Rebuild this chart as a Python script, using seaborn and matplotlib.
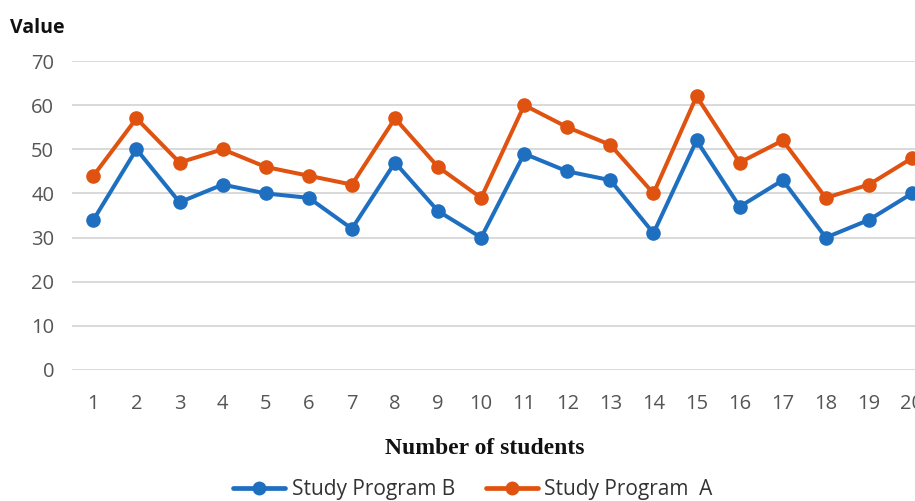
import numpy as np
import pandas as pd
import matplotlib
matplotlib.use("Agg")
import matplotlib.pyplot as plt
import seaborn as sns

# Scores per student for the two study programmes
students = list(range(1, 21))
program_a = [44, 57, 47, 50, 46, 44, 42, 57, 46, 39, 60, 55, 51, 40, 62, 47, 52, 39, 42, 48]
program_b = [34, 50, 38, 42, 40, 39, 32, 47, 36, 30, 49, 45, 43, 31, 52, 37, 43, 30, 34, 40]
series_names = ["Study Program B", "Study Program  A"]
y_ticks = [0, 10, 20, 30, 40, 50, 60, 70]

df = pd.concat([
    pd.DataFrame({"student": students, "value": program_b, "series": series_names[0]}),
    pd.DataFrame({"student": students, "value": program_a, "series": series_names[1]}),
])

sns.set_theme(style="white")
plt.rcParams["font.family"] = ["Open Sans", "DejaVu Sans"]

palette = {series_names[0]: "#1f6fc1", series_names[1]: "#e0520f"}

fig = plt.figure(figsize=(9.15, 5.01), dpi=100)
ax = fig.add_axes([0.079, 0.2615, 0.921, 0.6167])

sns.lineplot(data=df, x="student", y="value", hue="series", palette=palette,
             marker="o", markersize=10.5, markeredgewidth=0, linewidth=2.9,
             ax=ax, legend=False, zorder=3)
for line in ax.lines:
    line.set_clip_on(False)

ax.set_ylim(0, 70)
ax.set_xlim(0.51, 20.07)
ax.set_yticks(y_ticks)
ax.set_xticks(students)
ax.yaxis.grid(True, color="#d9d9d9", linewidth=1.4)
ax.xaxis.grid(False)
for s in ax.spines.values():
    s.set_visible(False)
ax.tick_params(axis="y", length=0, pad=13, labelsize=14.5, labelcolor="#555555")
ax.tick_params(axis="x", length=0, pad=17, labelsize=14.5, labelcolor="#555555")
ax.set_xlabel("")
ax.set_ylabel("")

fig.text(0.011, 0.945, "Value", fontsize=14, fontweight="bold", color="#111111",
         family=["Open Sans", "DejaVu Sans"], ha="left", va="center")
fig.text(0.53, 0.105, "Number of students", fontsize=17, fontweight="bold",
         family=["Liberation Serif", "DejaVu Serif"], color="#111111",
         ha="center", va="center")

handles = [
    plt.Line2D([], [], color=palette[n], marker="o", markersize=10,
               markeredgewidth=0, linewidth=3.4)
    for n in series_names
]
fig.legend(handles, series_names, loc="center", bbox_to_anchor=(0.517, 0.022),
           ncol=2, frameon=False, fontsize=15, handlelength=2.5,
           handletextpad=0.3, columnspacing=1.5, labelcolor="#333333")

fig.savefig("out.png", dpi=100)
